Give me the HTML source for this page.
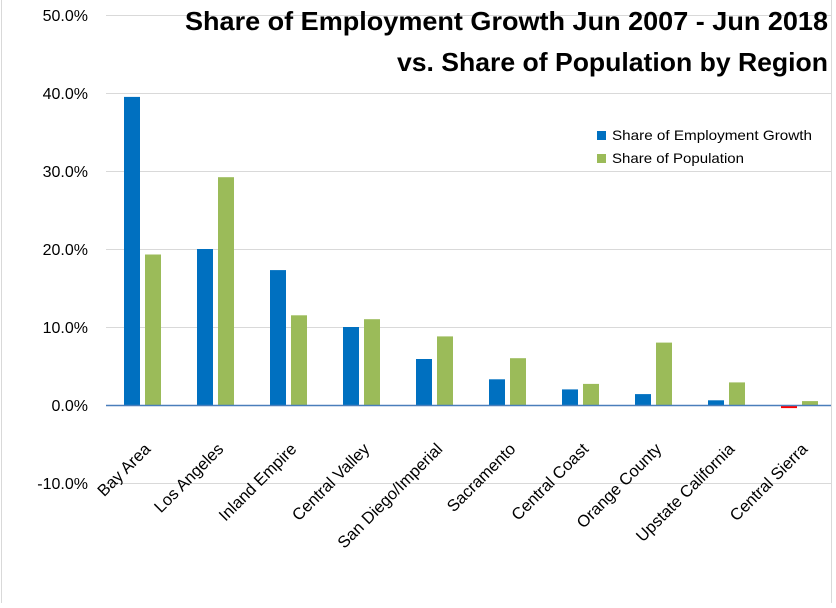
<!DOCTYPE html>
<html><head><style>body{margin:0;background:#fff}</style></head><body>
<svg width="836" height="603" xmlns="http://www.w3.org/2000/svg" font-family="Liberation Sans, sans-serif">
<rect width="836" height="603" fill="#fff"/>
<line x1="831.5" y1="0" x2="831.5" y2="603" stroke="#d9d9d9"/>
<line x1="1.5" y1="0" x2="1.5" y2="603" stroke="#d9d9d9"/>
<g stroke="#d9d9d9" stroke-width="1">
<line x1="106" y1="15.5" x2="831" y2="15.5"/>
<line x1="106" y1="93.5" x2="831" y2="93.5"/>
<line x1="106" y1="171.5" x2="831" y2="171.5"/>
<line x1="106" y1="249.5" x2="831" y2="249.5"/>
<line x1="106" y1="327.5" x2="831" y2="327.5"/>
<line x1="106" y1="483.5" x2="831" y2="483.5"/>
</g>
<g font-size="16" fill="#000" text-anchor="end">
<text x="88" y="21">50.0%</text>
<text x="88" y="99">40.0%</text>
<text x="88" y="177">30.0%</text>
<text x="88" y="255">20.0%</text>
<text x="88" y="333">10.0%</text>
<text x="88" y="411">0.0%</text>
<text x="88" y="489">-10.0%</text>
</g>
<g fill="#0070c0">
<rect x="124" y="96.9" width="16" height="308.1"/>
<rect x="197" y="249" width="16" height="156"/>
<rect x="270" y="270.1" width="16" height="134.9"/>
<rect x="343" y="327" width="16" height="78"/>
<rect x="416" y="359" width="16" height="46"/>
<rect x="489" y="379.3" width="16" height="25.7"/>
<rect x="562" y="389.4" width="16" height="15.6"/>
<rect x="635" y="394.1" width="16" height="10.9"/>
<rect x="708" y="400.3" width="16" height="4.7"/>
</g>
<rect x="781" y="405" width="16" height="3.1" fill="#ff0000"/>
<g fill="#9bbb59">
<rect x="145" y="254.5" width="16" height="150.5"/>
<rect x="218" y="177.2" width="16" height="227.8"/>
<rect x="291" y="315.3" width="16" height="89.7"/>
<rect x="364" y="319.2" width="16" height="85.8"/>
<rect x="437" y="336.4" width="16" height="68.6"/>
<rect x="510" y="358.2" width="16" height="46.8"/>
<rect x="583" y="383.9" width="16" height="21.1"/>
<rect x="656" y="342.6" width="16" height="62.4"/>
<rect x="729" y="382.4" width="16" height="22.6"/>
<rect x="802" y="401.1" width="16" height="3.9"/>
</g>
<line x1="106" y1="405.5" x2="831" y2="405.5" stroke="#4a7ebb" stroke-width="1.5"/>
<g font-size="16.5" text-anchor="end">
<text x="151.5" y="450" transform="rotate(-45 151.5 450)">Bay Area</text>
<text x="224.5" y="450" transform="rotate(-45 224.5 450)">Los Angeles</text>
<text x="297.5" y="450" transform="rotate(-45 297.5 450)">Inland Empire</text>
<text x="370.5" y="450" transform="rotate(-45 370.5 450)">Central Valley</text>
<text x="443.5" y="450" transform="rotate(-45 443.5 450)">San Diego/Imperial</text>
<text x="516.5" y="450" transform="rotate(-45 516.5 450)">Sacramento</text>
<text x="589.5" y="450" transform="rotate(-45 589.5 450)">Central Coast</text>
<text x="662.5" y="450" transform="rotate(-45 662.5 450)">Orange County</text>
<text x="735.5" y="450" transform="rotate(-45 735.5 450)">Upstate California</text>
<text x="808.5" y="450" transform="rotate(-45 808.5 450)">Central Sierra</text>
</g>
<g font-size="26" font-weight="bold">
<text x="185" y="30" textLength="643" lengthAdjust="spacingAndGlyphs">Share of Employment Growth Jun 2007 - Jun 2018</text>
<text x="397" y="71" textLength="431" lengthAdjust="spacingAndGlyphs">vs. Share of Population by Region</text>
</g>
<rect x="597" y="131" width="9" height="9" fill="#0070c0"/>
<text x="612" y="140" font-size="14" textLength="200" lengthAdjust="spacingAndGlyphs">Share of Employment Growth</text>
<rect x="597" y="154" width="9" height="9" fill="#9bbb59"/>
<text x="612" y="163" font-size="14" textLength="132" lengthAdjust="spacingAndGlyphs">Share of Population</text>
</svg>
</body></html>
